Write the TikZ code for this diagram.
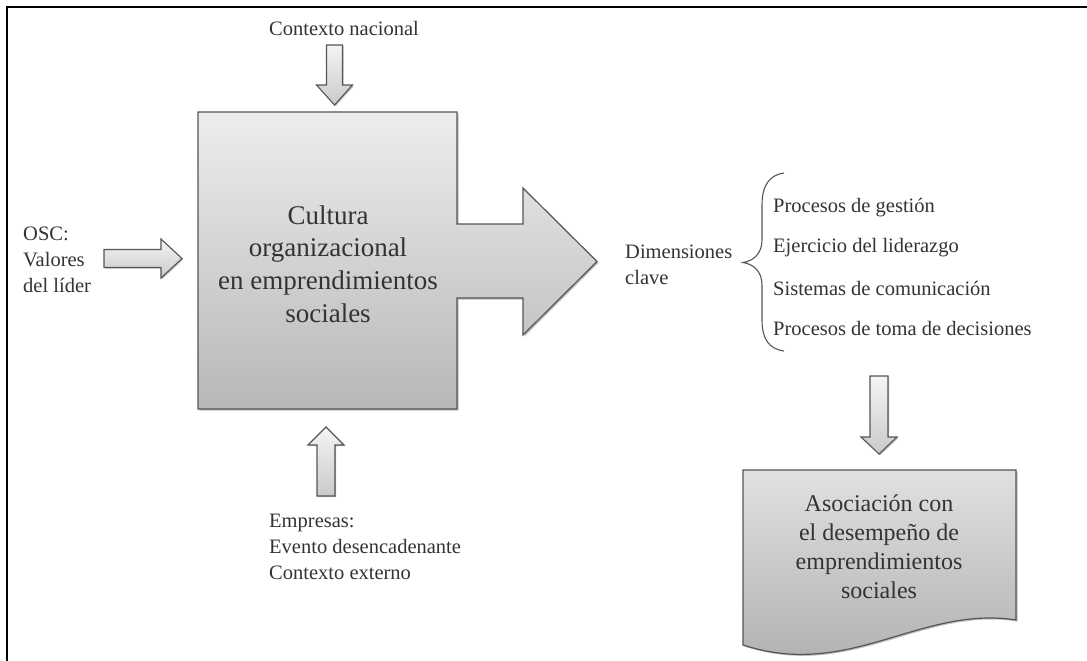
\documentclass[tikz,border=0pt]{standalone}
\usepackage{fontspec}
\setmainfont{Liberation Serif}
\usetikzlibrary{shadows}

\definecolor{edge}{HTML}{555555}
\definecolor{ink}{HTML}{333333}

\tikzset{
  blockarrow/.style={draw=edge, line width=1.1pt, line join=miter,
    top color=gray!8, bottom color=gray!42,
    drop shadow={shadow xshift=1.2pt, shadow yshift=-1.2pt, opacity=0.25, fill=black}},
  mainshape/.style={draw=edge, line width=1.2pt, line join=miter,
    top color=black!7, bottom color=black!28,
    drop shadow={shadow xshift=1.5pt, shadow yshift=-1.5pt, opacity=0.25, fill=black}},
  docshape/.style={draw=edge, line width=1.2pt, line join=miter,
    top color=black!12, bottom color=black!32,
    drop shadow={shadow xshift=1.5pt, shadow yshift=-1.5pt, opacity=0.25, fill=black}},
  smalltxt/.style={text=ink, inner sep=0pt, font=\fontsize{20.5}{26}\selectfont, align=left},
  bigtxt/.style={text=ink, inner sep=0pt, font=\fontsize{27}{32.7}\selectfont, align=center},
  doctxt/.style={text=ink, inner sep=0pt, font=\fontsize{24}{29}\selectfont, align=center},
  bracestyle/.style={draw=edge, line width=1.1pt}
}

\begin{document}
\begin{tikzpicture}[x=1pt, y=-1pt]
  \useasboundingbox (0,0) rectangle (1087,661);

  % frame (open on the right and at the bottom)
  \draw[line width=2.4pt, black] (7,661) -- (7,7) -- (1087,7);

  % central block with its outgoing fat arrow
  \path[mainshape] (198,112) -- (457,112) -- (457,224) -- (523,224) -- (523,188)
    -- (597,261.5) -- (523,335) -- (523,298) -- (457,298) -- (457,409)
    -- (198,409) -- cycle;
  \node[bigtxt] (cultura) at (328,264)
    {Cultura\\organizacional\\en emprendimientos\\sociales};

  % input from the top
  \node[smalltxt] (nacional) at (344,28) {Contexto nacional};
  \path[blockarrow] (326.5,45) -- (342.5,45) -- (342.5,85) -- (352.5,85)
    -- (334.5,105) -- (316.5,85) -- (326.5,85) -- cycle;

  % input from the left
  \node[smalltxt, anchor=west] (osc) at (23,260) {OSC:\\Valores\\del líder};
  \path[blockarrow] (104,249.5) -- (161,249.5) -- (161,239) -- (182,258.5)
    -- (161,278) -- (161,267.5) -- (104,267.5) -- cycle;

  % input from below
  \path[blockarrow] (317,496) -- (335,496) -- (335,445) -- (344,445)
    -- (326,427) -- (308,445) -- (317,445) -- cycle;
  \node[smalltxt, anchor=west] (empresas) at (269,546.5)
    {Empresas:\\Evento desencadenante\\Contexto externo};

  % key dimensions
  \node[smalltxt, anchor=west] (dimensiones) at (625,264.5) {Dimensiones\\clave};
  \draw[bracestyle] (784,173) .. controls (769,175) and (762,186) .. (762,205)
    -- (762,240) .. controls (762,254) and (753,261) .. (743,262.5)
    .. controls (753,264) and (762,271) .. (762,285)
    -- (762,320) .. controls (762,339) and (769,349) .. (784,351);
  \node[smalltxt, anchor=west] (gestion) at (773,208) {Procesos de gestión};
  \node[smalltxt, anchor=west] (liderazgo) at (773,248) {Ejercicio del liderazgo};
  \node[smalltxt, anchor=west] (comunicacion) at (773,288) {Sistemas de comunicación};
  \node[smalltxt, anchor=west] (decisiones) at (773,328) {Procesos de toma de decisiones};

  % arrow down to the outcome
  \path[blockarrow] (870,376) -- (888,376) -- (888,437) -- (897,437)
    -- (879,454) -- (861,437) -- (870,437) -- cycle;

  % outcome document
  \path[docshape] (743,470) -- (1016,470) -- (1016,620)
    .. controls (920,605) and (850,680) .. (743,645) -- cycle;
  \node[doctxt] (asociacion) at (879,546.5)
    {Asociación con\\el desempeño de\\emprendimientos\\sociales};
\end{tikzpicture}
\end{document}
